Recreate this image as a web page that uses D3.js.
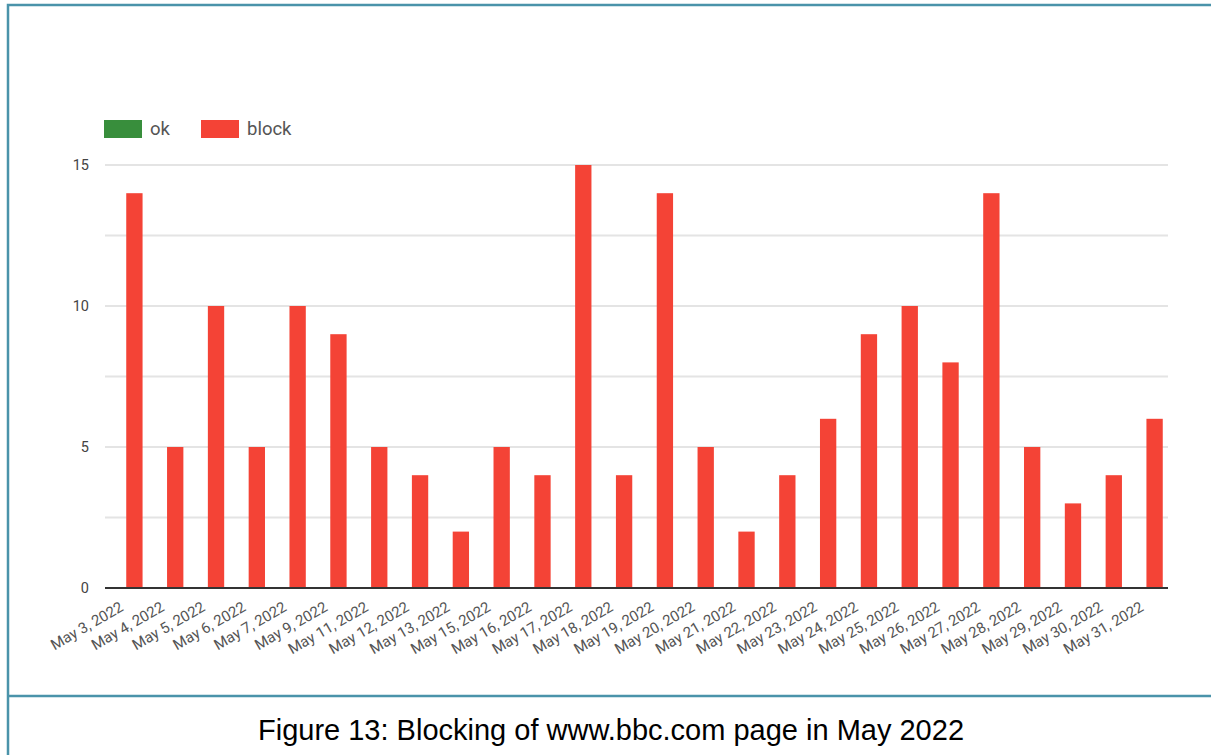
<!DOCTYPE html>
<html>
<head>
<meta charset="utf-8">
<script src="https://cdn.jsdelivr.net/npm/d3@7"></script>
<style>
  body { margin: 0; background: #fff; }
  svg { display: block; font-family: Roboto, "Liberation Sans", Arial, sans-serif; }
</style>
</head>
<body>
<script>
const width = 1211;
const height = 755;

const dates = ["May 3, 2022", "May 4, 2022", "May 5, 2022", "May 6, 2022", "May 7, 2022",
  "May 9, 2022", "May 11, 2022", "May 12, 2022", "May 13, 2022", "May 15, 2022",
  "May 16, 2022", "May 17, 2022", "May 18, 2022", "May 19, 2022", "May 20, 2022",
  "May 21, 2022", "May 22, 2022", "May 23, 2022", "May 24, 2022", "May 25, 2022",
  "May 26, 2022", "May 27, 2022", "May 28, 2022", "May 29, 2022", "May 30, 2022",
  "May 31, 2022"];
const okCounts = dates.map(() => 0);
const blockCounts = [14, 5, 10, 5, 10, 9, 5, 4, 2, 5, 4, 15, 4, 14, 5, 2, 4, 6, 9, 10, 8, 14, 5, 3, 4, 6];
const yTicks = [0, 5, 10, 15];
const gridTicks = [0, 2.5, 5, 7.5, 10, 12.5, 15];
const legendItems = [{name: "ok", color: "#388e3c"}, {name: "block", color: "#f44336"}];
const caption = "Figure 13: Blocking of www.bbc.com page in May 2022";

const frameColor = "#4a93aa";

const svg = d3.select(document.body)
  .append("svg")
  .attr("width", width)
  .attr("height", height);

// frame + divider
svg.append("rect")
  .attr("x", 8).attr("y", 5)
  .attr("width", width + 10).attr("height", height + 10)
  .attr("fill", "none")
  .attr("stroke", frameColor)
  .attr("stroke-width", 2.5);
svg.append("line")
  .attr("x1", 8).attr("x2", width)
  .attr("y1", 696).attr("y2", 696)
  .attr("stroke", frameColor)
  .attr("stroke-width", 2.5);

const plotLeft = 105, plotRight = 1168;

const x = d3.scaleBand()
  .domain(dates)
  .range([114, 1175])
  .paddingInner(0.6)
  .paddingOuter(0.3);

const y = d3.scaleLinear()
  .domain([0, 15])
  .range([588, 165]);

// gridlines
svg.append("g")
  .selectAll("line")
  .data(gridTicks.filter(d => d > 0))
  .join("line")
  .attr("x1", plotLeft).attr("x2", plotRight)
  .attr("y1", d => y(d)).attr("y2", d => y(d))
  .attr("stroke", "#e4e4e4")
  .attr("stroke-width", 1.8);

// y labels
svg.append("g")
  .selectAll("text")
  .data(yTicks)
  .join("text")
  .attr("x", 89)
  .attr("y", d => y(d))
  .attr("dy", "0.35em")
  .attr("text-anchor", "end")
  .attr("font-size", 14.5)
  .attr("fill", "#444")
  .text(d => d);

// bars (ok is all zero, stacked below block)
svg.append("g")
  .selectAll("rect")
  .data(dates.map((d, i) => ({date: d, ok: okCounts[i], block: blockCounts[i]})))
  .join("rect")
  .attr("x", d => x(d.date))
  .attr("width", x.bandwidth())
  .attr("y", d => y(d.ok + d.block))
  .attr("height", d => y(d.ok) - y(d.ok + d.block))
  .attr("fill", "#f44336");

// baseline
svg.append("line")
  .attr("x1", plotLeft).attr("x2", plotRight)
  .attr("y1", y(0)).attr("y2", y(0))
  .attr("stroke", "#333")
  .attr("stroke-width", 2);

// x labels
svg.append("g")
  .selectAll("text")
  .data(dates)
  .join("text")
  .attr("transform", d => `translate(${x(d) + x.bandwidth() / 2 - 10},${y(0) + 22}) rotate(-30)`)
  .attr("text-anchor", "end")
  .attr("font-size", 15)
  .attr("fill", "#555")
  .text(d => d);

// legend
const legend = svg.append("g")
  .selectAll("g")
  .data(legendItems)
  .join("g")
  .attr("transform", (d, i) => `translate(${104 + i * 97},120)`);
legend.append("rect")
  .attr("width", 38).attr("height", 18)
  .attr("fill", d => d.color);
legend.append("text")
  .attr("x", 46).attr("y", 9)
  .attr("dy", "0.35em")
  .attr("font-size", 18.5)
  .attr("fill", "#555")
  .text(d => d.name);

// caption
svg.append("text")
  .attr("x", 611)
  .attr("y", 740)
  .attr("text-anchor", "middle")
  .attr("font-family", "'Liberation Sans', Arial, sans-serif")
  .attr("font-size", 29)
  .attr("fill", "#000")
  .text(caption);
</script>
</body>
</html>
